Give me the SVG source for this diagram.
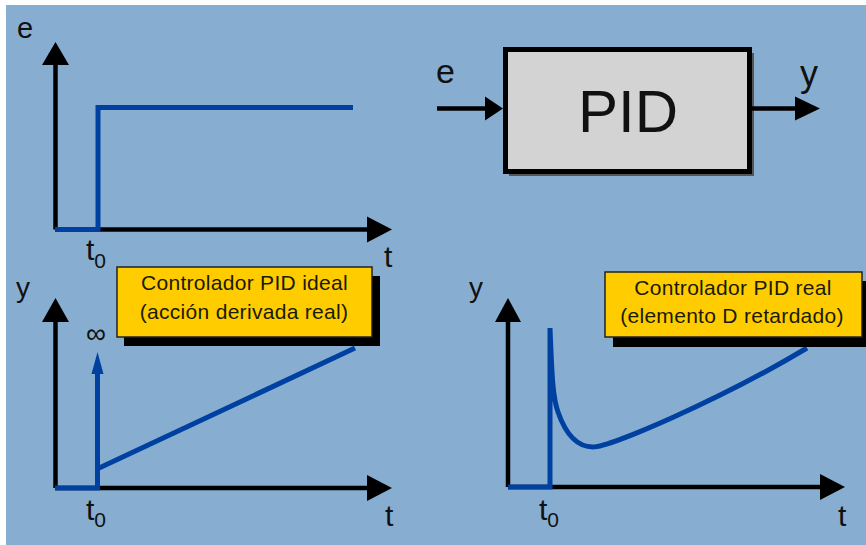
<svg xmlns="http://www.w3.org/2000/svg" width="866" height="545" viewBox="0 0 866 545">
<style>
.lbl{font-family:"Liberation Sans",Arial,sans-serif;fill:#111}
.box{font-family:"Liberation Sans",Arial,sans-serif;fill:#1a1a00;font-size:21px;letter-spacing:0.3px;text-anchor:middle}
.ax{stroke:#000;stroke-width:4.5;fill:none}
.head{fill:#000}
.blue{stroke:#0040A0;stroke-width:5;fill:none}
.bhead{fill:#0040A0}
.ybox{fill:#FFCC00;stroke:#222;stroke-width:1.5}
.shadow{fill:#000}
</style>
<rect x="0" y="0" width="866" height="545" fill="#ffffff"/>
<rect x="6" y="5" width="860" height="540" fill="#87AED0"/>

<g id="graph-e">
  <line class="ax" x1="55.5" y1="229.5" x2="55.5" y2="62"/>
  <polygon class="head" points="42,65 55.5,42 69,65"/>
  <line class="ax" x1="55" y1="229.5" x2="370" y2="229.5"/>
  <polygon class="head" points="367,216.5 392,229.5 367,242.5"/>
  <path class="blue" d="M55,229.5 H98 V107.5 H353"/>
  <text class="lbl" x="17" y="38" font-size="29">e</text>
  <text class="lbl" x="86" y="260" font-size="30">t<tspan font-size="21" dy="8">0</tspan></text>
  <text class="lbl" x="384" y="267" font-size="30">t</text>
</g>

<g id="pid-block">
  <rect x="509" y="53" width="245" height="123" fill="#555"/>
  <rect x="505.5" y="49.5" width="244" height="122" fill="#D3D3D3" stroke="#000" stroke-width="5"/>
  <text class="lbl" x="628" y="132" font-size="60" text-anchor="middle">PID</text>
</g>

<g id="connectors">
  <line class="ax" x1="437" y1="108.5" x2="488" y2="108.5" stroke-width="5"/>
  <polygon class="head" points="485,96.5 503,108.5 485,120.5"/>
  <line class="ax" x1="752" y1="108.5" x2="797" y2="108.5" stroke-width="5"/>
  <polygon class="head" points="795,96.5 820,108.5 795,120.5"/>
  <text class="lbl" x="436" y="83" font-size="34">e</text>
  <text class="lbl" x="800" y="86" font-size="36">y</text>
</g>

<g id="graph-ideal">
  <line class="ax" x1="55.5" y1="488" x2="55.5" y2="318"/>
  <polygon class="head" points="42,322 55.5,298 69,322"/>
  <line class="ax" x1="55" y1="488" x2="370" y2="488"/>
  <polygon class="head" points="367,475 392,488 367,501"/>
  <line class="blue" x1="97" y1="469" x2="355" y2="348" stroke-width="4.5"/>
  <path class="blue" d="M55,488 H97.5 V370"/>
  <polygon class="bhead" points="91.5,374 97.5,352 103.5,374"/>
  <text class="lbl" x="86" y="343" font-size="28">∞</text>
  <text class="lbl" x="16" y="297" font-size="28">y</text>
  <text class="lbl" x="86" y="520" font-size="30">t<tspan font-size="21" dy="7">0</tspan></text>
  <text class="lbl" x="385" y="526" font-size="30">t</text>
</g>

<g id="label-ideal">
  <rect class="shadow" x="124" y="276" width="256" height="70"/>
  <rect class="ybox" x="117" y="267" width="255" height="70"/>
  <text class="box" x="244.5" y="290">Controlador PID ideal</text>
  <text class="box" x="244" y="319">(acción derivada real)</text>
</g>

<g id="graph-real">
  <line class="ax" x1="508" y1="487" x2="508" y2="318"/>
  <polygon class="head" points="495,322 508,298 521,322"/>
  <line class="ax" x1="508" y1="487" x2="822" y2="487"/>
  <polygon class="head" points="820,474 845,487 820,500"/>
  <path class="blue" d="M508,487 H550 V328 C552,380 553,398 558,412 C566,435 578,447 593,447 C610,447 720,400 807,348"/>
  <text class="lbl" x="469" y="297" font-size="28">y</text>
  <text class="lbl" x="539" y="520" font-size="30">t<tspan font-size="21" dy="7">0</tspan></text>
  <text class="lbl" x="838" y="526" font-size="30">t</text>
</g>

<g id="label-real">
  <rect class="shadow" x="613" y="281" width="257" height="66"/>
  <rect class="ybox" x="605" y="272" width="257" height="65"/>
  <text class="box" x="733" y="295">Controlador PID real</text>
  <text class="box" x="732" y="323">(elemento D retardado)</text>
</g>
</svg>
